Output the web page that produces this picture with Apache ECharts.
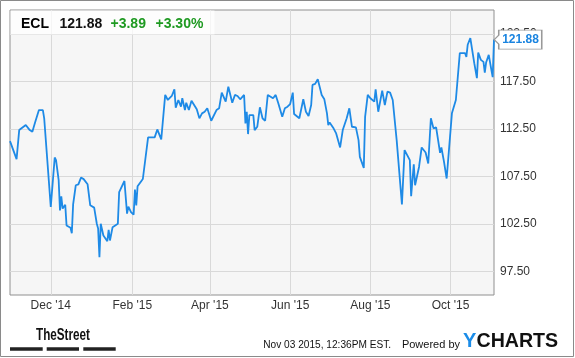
<!DOCTYPE html>
<html>
<head>
<meta charset="utf-8">
<script src="https://cdn.jsdelivr.net/npm/echarts@6/dist/echarts.min.js"></script>
<style>
html,body{margin:0;padding:0;background:#fff;}
#chart{width:575px;height:358px;}
</style>
</head>
<body>
<div id="chart"></div>
<script>
const dates = [
'2014-10-31','2014-11-05','2014-11-07','2014-11-12','2014-11-15','2014-11-17','2014-11-19','2014-11-20','2014-11-22','2014-11-25','2014-11-26','2014-11-27',
'2014-12-01','2014-12-04','2014-12-05','2014-12-07','2014-12-08','2014-12-09','2014-12-10','2014-12-12','2014-12-13','2014-12-16','2014-12-17','2014-12-18','2014-12-20','2014-12-22','2014-12-24','2014-12-26','2014-12-29','2014-12-31',
'2015-01-03','2015-01-05','2015-01-06','2015-01-07','2015-01-08','2015-01-10','2015-01-13','2015-01-14','2015-01-15','2015-01-17','2015-01-21','2015-01-22','2015-01-23','2015-01-26','2015-01-28','2015-01-29','2015-01-31',
'2015-02-02','2015-02-03','2015-02-04','2015-02-05','2015-02-09','2015-02-13','2015-02-18','2015-02-20','2015-02-23','2015-02-26','2015-02-28',
'2015-03-03','2015-03-05','2015-03-06','2015-03-08','2015-03-10','2015-03-11','2015-03-13','2015-03-14','2015-03-16','2015-03-18','2015-03-20','2015-03-22','2015-03-24','2015-03-26','2015-03-28','2015-03-30',
'2015-04-02','2015-04-06','2015-04-08','2015-04-10','2015-04-13','2015-04-15','2015-04-18','2015-04-20','2015-04-22','2015-04-24','2015-04-27','2015-04-28','2015-04-29','2015-04-30',
'2015-05-01','2015-05-04','2015-05-05','2015-05-07','2015-05-09','2015-05-11','2015-05-13','2015-05-15','2015-05-19','2015-05-21','2015-05-23','2015-05-26','2015-05-28','2015-05-30',
'2015-06-01','2015-06-03','2015-06-04','2015-06-08','2015-06-09','2015-06-11','2015-06-13','2015-06-15','2015-06-17','2015-06-18','2015-06-20','2015-06-22','2015-06-25','2015-06-27','2015-06-29','2015-06-30',
'2015-07-01','2015-07-04','2015-07-06','2015-07-07','2015-07-09','2015-07-10','2015-07-11','2015-07-14','2015-07-16','2015-07-18','2015-07-21','2015-07-23','2015-07-24','2015-07-27','2015-07-28','2015-07-30',
'2015-08-01','2015-08-04','2015-08-05','2015-08-07','2015-08-10','2015-08-12','2015-08-14','2015-08-16','2015-08-18','2015-08-21','2015-08-25','2015-08-27','2015-08-29','2015-08-31',
'2015-09-01','2015-09-03','2015-09-04','2015-09-07','2015-09-09','2015-09-12','2015-09-14','2015-09-16','2015-09-18','2015-09-20','2015-09-23','2015-09-24','2015-09-26','2015-09-28',
'2015-10-02','2015-10-05','2015-10-08','2015-10-12','2015-10-13','2015-10-14','2015-10-16','2015-10-19','2015-10-20','2015-10-21','2015-10-22','2015-10-24','2015-10-26','2015-10-27','2015-10-28','2015-10-30',
'2015-11-01','2015-11-02','2015-11-03'
];
const prices = [
111.20,109.30,112.36,112.90,112.36,112.18,113.13,113.30,114.47,114.47,113.60,113.70,
104.26,109.47,109.20,107.08,103.90,105.39,104.10,104.50,102.32,102.08,101.50,104.54,106.55,106.65,107.36,107.20,106.65,104.44,
104.20,102.50,102.00,98.97,102.50,101.27,100.66,101.87,100.74,102.14,102.50,105.84,105.70,107.00,103.56,104.30,103.73,
103.45,106.09,104.44,106.44,107.21,111.59,111.59,112.43,111.38,116.06,115.53,
115.95,116.66,114.71,115.53,114.82,115.71,114.47,115.24,114.47,115.45,115.00,114.55,113.60,114.12,114.29,114.65,
113.34,114.47,114.65,116.30,115.35,116.93,115.24,116.06,115.95,115.60,116.06,113.07,114.29,111.94,
113.94,113.94,112.36,112.71,114.76,113.60,113.34,116.06,115.71,116.06,115.18,113.76,114.65,114.82,
115.10,116.30,114.05,113.60,113.49,115.60,114.29,113.84,115.00,117.11,117.22,117.71,116.06,115.60,114.12,112.89,
113.17,112.54,112.01,112.18,110.53,110.67,112.36,113.60,114.65,112.71,112.64,111.30,109.54,108.38,113.76,116.06,
115.71,115.35,116.66,114.29,116.51,115.00,116.41,116.30,115.53,111.30,104.54,110.25,109.72,109.19,
105.39,108.76,106.55,108.48,110.53,110.00,108.84,113.60,112.54,112.64,109.96,110.53,109.01,107.26,
114.12,115.53,120.46,120.46,120.07,121.34,122.05,119.40,119.33,117.82,120.52,119.75,119.54,118.41,119.47,120.28,
118.70,117.93,121.88
];
const tickDates = ['2014-12-01','2015-02-01','2015-04-01','2015-06-01','2015-08-01','2015-10-01'];
const tickLabels = ["Dec '14","Feb '15","Apr '15","Jun '15","Aug '15","Oct '15"];
const yTicks = [97.5, 102.5, 107.5, 112.5, 117.5, 122.5];
const rangeStart = '2014-10-31';
const rangeEnd = '2015-11-03';

// full calendar-day category list
const allDays = [];
for (let t = Date.parse(rangeStart + 'T00:00:00Z'); t <= Date.parse(rangeEnd + 'T00:00:00Z'); t += 86400000) {
  allDays.push(new Date(t).toISOString().slice(0, 10));
}
const priceByDay = {};
dates.forEach((d, i) => { priceByDay[d] = prices[i]; });
const seriesData = allDays.map(d => (d in priceByDay ? priceByDay[d] : null));
const lastDate = dates[dates.length - 1];
const lastPrice = prices[prices.length - 1];

const isTick = (idx, val) => tickDates.indexOf(val) >= 0;

const chart = echarts.init(document.getElementById('chart'), null, {renderer: 'canvas'});
const FONT = '"Liberation Sans", Arial, sans-serif';
chart.setOption({
  animation: false,
  backgroundColor: '#ffffff',
  textStyle: {fontFamily: FONT},
  grid: {left: 10, top: 10, width: 484, height: 285, show: true, backgroundColor: '#f6f6f6', borderColor: '#909090', borderWidth: 1},
  xAxis: {
    type: 'category',
    data: allDays,
    boundaryGap: false,
    axisLine: {show: false},
    axisTick: {show: false},
    axisLabel: {
      interval: isTick,
      formatter: v => tickLabels[tickDates.indexOf(v)] || '',
      color: '#333333', fontSize: 12, margin: 5, fontFamily: FONT
    },
    splitLine: {show: true, interval: isTick, lineStyle: {color: '#d9d9d9', width: 1}}
  },
  yAxis: {
    type: 'value',
    position: 'right',
    min: 95, max: 125, interval: 2.5,
    axisLine: {show: false},
    axisTick: {show: false},
    axisLabel: {
      formatter: v => (yTicks.some(t => Math.abs(t - v) < 1e-6) ? v.toFixed(2) : ''),
      color: '#333333', fontSize: 12, margin: 6, fontFamily: FONT
    },
    splitLine: {show: true, lineStyle: {color: ['rgba(0,0,0,0)', '#d9d9d9'], width: 1}}
  },
  series: [{
    type: 'line',
    data: seriesData,
    connectNulls: true,
    showSymbol: false,
    clip: false,
    lineStyle: {color: '#1e8ae6', width: 1.8},
    itemStyle: {color: '#1e8ae6'},
    z: 3,
    markPoint: {
      silent: true,
      symbol: 'path://M0,9.5 L4.5,5 L4.5,0 L47.5,0 L47.5,19 L4.5,19 L4.5,14 Z',
      symbolSize: [47.5, 19],
      symbolOffset: [24, 0],
      itemStyle: {color: '#ffffff', borderColor: '#999999', borderWidth: 1},
      label: {
        show: true, position: 'inside', offset: [2.5, 0.5],
        formatter: p => Number(p.value).toFixed(2),
        color: '#1a84e0', fontWeight: 'bold', fontSize: 12, fontFamily: FONT
      },
      data: [{coord: [lastDate, lastPrice], value: lastPrice}]
    }
  }],
  graphic: [
    {type: 'rect', z: 100, silent: true, shape: {x: 0.5, y: 0.5, width: 573, height: 356}, style: {fill: 'none', stroke: '#8a8a8a', lineWidth: 1}},
    {type: 'rect', z: 50, silent: true, shape: {x: 10.5, y: 10.5, width: 204, height: 24}, style: {fill: 'rgba(255,255,255,0.72)'}},
    {type: 'text', z: 51, x: 21, y: 23.8, style: {text: 'ECL', font: 'bold 14px ' + FONT, fill: '#000000', verticalAlign: 'middle'}},
    {type: 'text', z: 51, x: 59.5, y: 23.8, style: {text: '121.88', font: 'bold 14px ' + FONT, fill: '#111111', verticalAlign: 'middle'}},
    {type: 'text', z: 51, x: 110.5, y: 23.8, style: {text: '+3.89', font: 'bold 14px ' + FONT, fill: '#1f9a22', verticalAlign: 'middle'}},
    {type: 'text', z: 51, x: 155.5, y: 23.8, style: {text: '+3.30%', font: 'bold 14px ' + FONT, fill: '#1f9a22', verticalAlign: 'middle'}},
    {type: 'text', z: 51, x: 36, y: 335.4, scaleX: 0.73, style: {text: 'TheStreet', font: 'bold 16px ' + FONT, fill: '#111111', verticalAlign: 'middle'}},
    {type: 'rect', z: 51, shape: {x: 10, y: 347.3, width: 32.7, height: 3.4}, style: {fill: '#222222'}},
    {type: 'rect', z: 51, shape: {x: 46.7, y: 347.3, width: 32.3, height: 3.4}, style: {fill: '#222222'}},
    {type: 'rect', z: 51, shape: {x: 83.3, y: 347.3, width: 32.4, height: 3.4}, style: {fill: '#222222'}},
    {type: 'text', z: 51, x: 263.3, y: 344.5, scaleX: 0.92, style: {text: 'Nov 03 2015, 12:36PM EST.', font: '11px ' + FONT, fill: '#111111', verticalAlign: 'middle'}},
    {type: 'text', z: 51, x: 460, y: 344.5, style: {text: 'Powered by', font: '11px ' + FONT, fill: '#111111', verticalAlign: 'middle', align: 'right'}},
    {type: 'text', z: 51, x: 463, y: 341.3, style: {text: 'Y', font: 'bold 20px ' + FONT, fill: '#1a8ce8', verticalAlign: 'middle'}},
    {type: 'text', z: 51, x: 476.5, y: 341.3, scaleX: 0.98, style: {text: 'CHARTS', font: 'bold 20px ' + FONT, fill: '#111111', verticalAlign: 'middle'}}
  ]
});
</script>
</body>
</html>
